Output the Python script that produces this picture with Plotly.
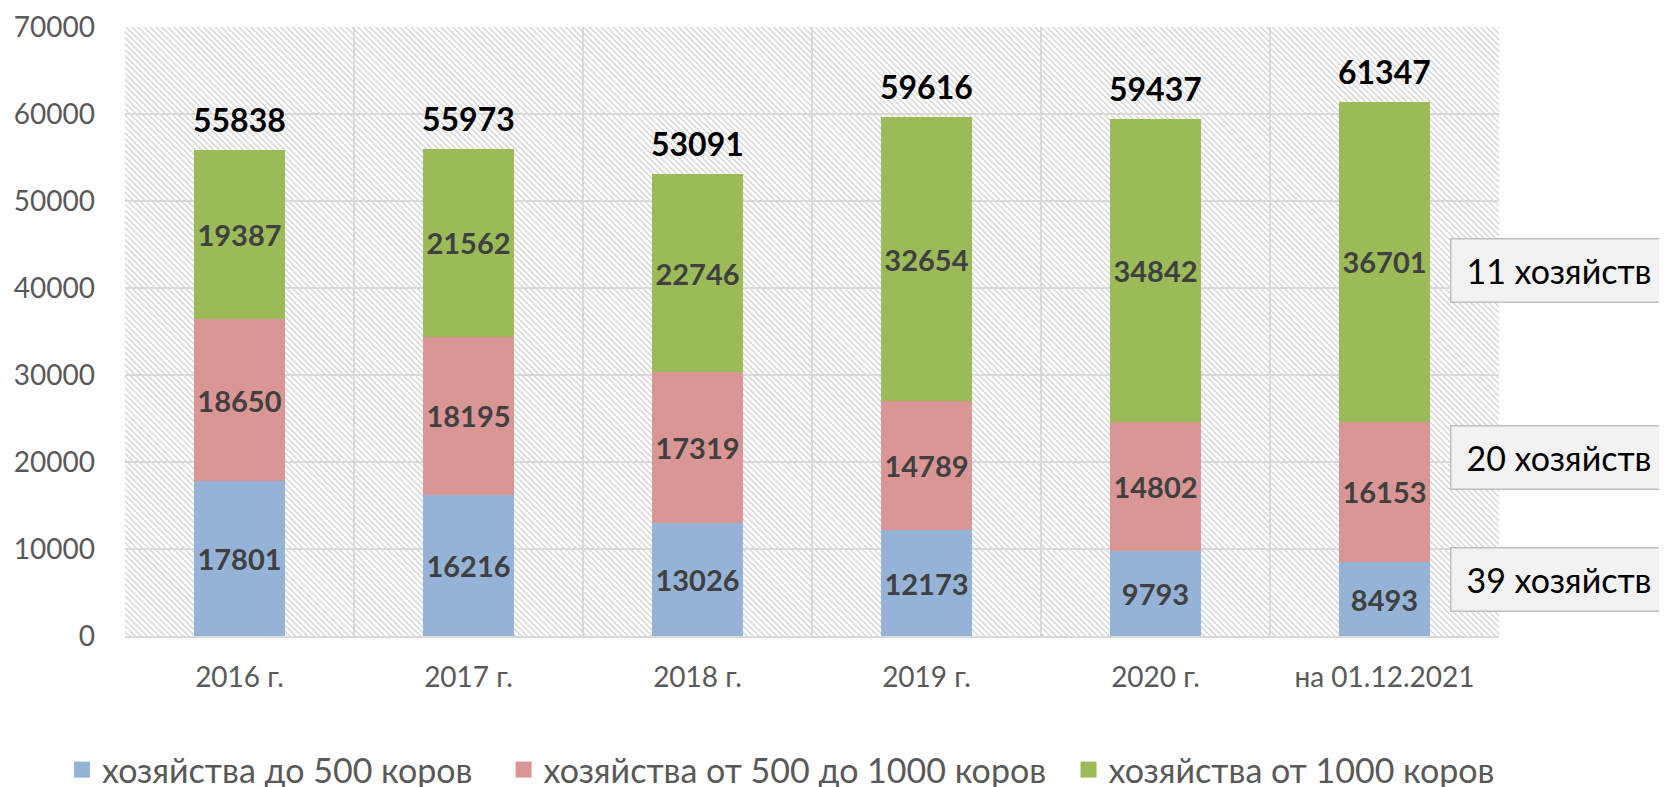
import base64
import plotly.graph_objects as go

categories = ["2016 г.", "2017 г.", "2018 г.", "2019 г.", "2020 г.", "на 01.12.2021"]
small = [17801, 16216, 13026, 12173, 9793, 8493]
medium = [18650, 18195, 17319, 14789, 14802, 16153]
large = [19387, 21562, 22746, 32654, 34842, 36701]
series_names = ["хозяйства до 500 коров", "хозяйства от 500 до 1000 коров", "хозяйства от 1000 коров"]
series_colors = ["#95B3D7", "#D99694", "#9BBB59"]
box_texts = ["11 хозяйств", "20 хозяйств", "39 хозяйств"]

totals = [a + b + c for a, b, c in zip(small, medium, large)]

W, H = 1667, 787
# page has an 8px body margin; plot area on the page: x 125..1499, y 27..636
ML, MR, MT, MB = 117, 176, 19, 159
PW, PH = W - ML - MR, H - MT - MB
PAGE_L, PAGE_B = 125, 636


def px(page_x):
    return (page_x - PAGE_L) / PW


def py(page_y):
    return (PAGE_B - page_y) / PH


FONT = "Lato"
GAPS = ["\u00a0\u00a0\u00a0", "\u00a0\u00a0", ""]  # extra spacing between legend entries

fig = go.Figure()
for vals, name, color in zip([small, medium, large], series_names, series_colors):
    fig.add_trace(go.Bar(
        x=categories, y=vals, name=name, showlegend=False,
        marker=dict(color=color, line=dict(width=0)),
        width=0.4,
        text=[str(v) for v in vals],
        textposition="inside", insidetextanchor="middle",
        textangle=0, constraintext="none",
        textfont=dict(family=FONT, size=29, color="#404040", weight="bold"),
    ))

# legend entries (square swatches)
for name, color, gap in zip(series_names, series_colors, GAPS):
    fig.add_trace(go.Scatter(x=[None], y=[None], mode="markers", name=name + gap,
                             marker=dict(symbol="square", size=16, color=color)))

for c, t in zip(categories, totals):
    fig.add_annotation(x=c, y=t, xref="x", yref="y", text=f"<b>{t}</b>",
                       showarrow=False, yanchor="bottom", yshift=9,
                       font=dict(family=FONT, size=32, color="#000000"))

# striped plot background (decoration)
svg = (f'<svg xmlns="http://www.w3.org/2000/svg" width="{PW}" height="{PH}" viewBox="0 0 {PW} {PH}">'
       '<defs><pattern id="p" width="4.2" height="4.2" patternUnits="userSpaceOnUse" patternTransform="rotate(-45)">'
       '<line x1="0.8" y1="0" x2="0.8" y2="4.2" stroke="#d4d4d4" stroke-width="1.4"/></pattern></defs>'
       '<rect width="100%" height="100%" fill="#ffffff"/><rect width="100%" height="100%" fill="url(#p)"/></svg>')
src = "data:image/svg+xml;base64," + base64.b64encode(svg.encode()).decode()
fig.add_layout_image(source=src, xref="paper", yref="paper", x=0, y=1, sizex=1, sizey=1,
                     xanchor="left", yanchor="top", sizing="stretch", layer="below")

box_y = [270, 457, 579]
for txt, yy in zip(box_texts, box_y):
    fig.add_annotation(text="\u00a0\u2009" + txt, xref="paper", yref="paper", x=px(1450), y=py(yy),
                       xanchor="left", yanchor="middle", showarrow=False, align="left",
                       width=320, height=58, borderpad=2,
                       bgcolor="#F2F2F2", bordercolor="#BFBFBF", borderwidth=1.5,
                       font=dict(family=FONT, size=34, color="#000000"))

fig.update_layout(
    width=W, height=H,
    margin=dict(l=ML, r=MR, t=MT, b=MB, autoexpand=False),
    barmode="stack",
    plot_bgcolor="rgba(0,0,0,0)", paper_bgcolor="#ffffff",
    showlegend=True,
    legend=dict(orientation="h", x=px(62), xanchor="left", y=py(770), yanchor="middle",
                font=dict(family=FONT, size=34, color="#595959"),
                traceorder="normal", itemwidth=30),
    font=dict(family=FONT),
)
fig.update_xaxes(type="category", tickson="boundaries", showgrid=True, gridcolor="#D9D9D9", gridwidth=1.5,
                 showline=True, linecolor="#D9D9D9", linewidth=2, ticks="", ticklabelstandoff=15,
                 tickfont=dict(family=FONT, size=28, color="#595959"), range=[-0.5, 5.5], automargin=False)
fig.update_yaxes(range=[0, 70000], dtick=10000, tickformat="d", showgrid=True, gridcolor="#D9D9D9", gridwidth=1.5,
                 zeroline=False, ticks="", ticklabelstandoff=29, automargin=False,
                 tickfont=dict(family=FONT, size=28, color="#595959"))

fig.write_html("out.html")
